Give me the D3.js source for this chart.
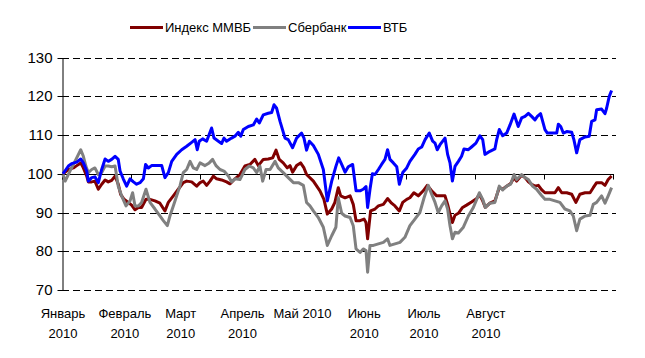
<!DOCTYPE html>
<html><head><meta charset="utf-8">
<script src="https://cdn.jsdelivr.net/npm/d3@7"></script>
<style>
html,body{margin:0;padding:0;background:#fff;}
svg{display:block;font-family:"Liberation Sans",Arial,sans-serif;}
</style></head>
<body><svg id="c" width="645" height="358"></svg>
<script>
// ---- data (day offset from 1 Jan 2010, index value) ----
const seriesNames = ["Индекс ММВБ", "Сбербанк", "ВТБ"];
const seriesColors = ["#800000", "#808080", "#0000ff"];
const micex = [[0,100],[2.7,101.1],[5.2,101.5],[6.9,102.1],[8.9,102.8],[10.2,101.5],[11.9,99.4],[12.7,97.9],[14.4,97.9],[16.0,98.1],[17.7,96.0],[19.4,97.3],[21.1,98.4],[22.7,97.9],[24.4,98.3],[26.1,99.4],[27.7,97.3],[28.9,94.7],[30.6,93.4],[32.7,92.6],[34.4,91.9],[36.1,90.7],[37.8,91.3],[39.4,91.3],[41.6,93.4],[43.6,93.4],[46.1,93.0],[48.6,92.4],[51.1,90.4],[52.8,92.6],[55.3,94.3],[57.8,96.0],[60.3,97.7],[62.0,98.1],[64.5,97.9],[67.0,96.8],[68.7,97.7],[70.3,98.1],[72.0,97.0],[73.7,98.1],[75.4,99.4],[77.0,98.7],[79.5,98.4],[82.0,97.9],[83.7,97.4],[86.2,98.7],[88.7,99.8],[91.2,102.0],[93.7,102.4],[96.2,103.7],[97.9,102.1],[100.4,103.7],[102.9,103.8],[105.1,104.1],[106.8,106.1],[108.4,103.7],[110.4,102.8],[112.4,101.5],[113.8,102.1],[115.1,100.4],[117.1,102.1],[119.1,102.8],[120.8,101.5],[122.1,99.8],[125.5,98.1],[128.8,95.6],[130.8,93.4],[132.5,89.6],[134.7,90.9],[136.3,92.6],[138.0,96.4],[139.2,94.3],[141.4,93.8],[143.9,94.3],[145.5,92.1],[146.9,87.9],[148.9,87.9],[150.9,88.3],[151.9,87.4],[152.7,83.2],[154.2,90.4],[156.4,90.9],[158.1,91.7],[160.6,92.1],[162.7,93.6],[164.7,92.4],[166.4,91.7],[168.6,90.4],[170.3,92.6],[172.3,93.4],[173.9,93.8],[175.9,95.1],[178.1,94.3],[180.6,95.6],[182.6,97.0],[184.8,95.6],[187.3,94.3],[189.0,94.3],[191.5,94.3],[192.8,92.1],[194.0,89.6],[195.2,87.4],[196.5,89.3],[198.2,89.8],[200.3,91.3],[202.3,91.9],[204.8,92.7],[207.4,93.6],[208.7,94.7],[210.4,93.0],[211.7,91.3],[214.0,92.4],[216.5,93.0],[218.7,96.4],[220.4,96.0],[222.4,96.8],[224.4,97.5],[226.1,99.0],[227.4,98.1],[229.9,99.6],[231.6,99.0],[233.3,97.9],[234.9,97.3],[236.6,96.8],[238.3,97.0],[239.9,95.9],[241.6,95.1],[244.1,95.1],[246.6,95.1],[248.3,96.4],[250.0,95.1],[252.5,95.1],[255.0,94.7],[257.1,92.6],[259.1,94.7],[261.7,95.1],[264.2,95.1],[265.8,96.4],[267.5,97.7],[270.0,97.7],[271.7,97.0],[273.3,98.5],[275.0,99.4]];
const sber = [[0,99.8],[1.1,98.1],[3.5,100.7],[6.0,103.2],[8.9,106.2],[10.2,104.5],[11.5,101.9],[12.7,100.3],[14.4,101.1],[16.0,101.5],[17.7,99.8],[19.4,100.3],[21.1,102.0],[22.7,102.0],[24.4,101.8],[26.1,102.0],[27.7,96.8],[29.4,94.3],[31.6,91.7],[33.6,93.0],[34.9,95.1],[36.1,91.7],[37.8,91.7],[39.4,92.6],[41.6,96.0],[43.6,92.6],[46.1,90.9],[48.6,89.1],[50.3,87.9],[52.3,86.6],[53.6,89.1],[55.3,91.7],[57.0,94.3],[58.6,96.8],[60.3,100.3],[62.0,101.1],[63.7,103.2],[65.3,101.5],[67.0,101.1],[68.7,102.8],[71.2,102.1],[73.3,102.8],[75.0,103.7],[76.7,102.1],[78.7,101.1],[80.7,100.7],[82.9,99.4],[84.5,97.9],[86.2,98.7],[88.7,98.5],[91.2,101.1],[93.4,102.0],[95.4,101.5],[97.1,100.3],[98.7,102.0],[100.1,98.1],[101.8,101.1],[103.8,101.1],[106.3,103.2],[107.9,101.5],[110.4,100.3],[112.9,99.0],[115.5,97.7],[118.0,97.7],[120.5,97.0],[122.1,92.6],[123.8,91.7],[125.5,90.4],[128.0,88.7],[130.5,86.2],[132.5,81.5],[134.7,84.0],[136.8,86.2],[138.0,93.8],[139.7,89.8],[141.4,89.1],[143.9,88.7],[145.5,86.6],[146.9,80.6],[148.9,79.7],[150.5,80.6],[151.9,80.2],[152.7,74.6],[153.9,81.5],[155.6,81.5],[158.1,81.9],[160.6,82.3],[162.7,83.2],[163.9,81.5],[166.4,81.9],[168.9,82.3],[171.4,83.6],[173.9,86.6],[176.4,88.3],[178.9,90.0],[181.0,93.8],[183.1,97.0],[184.8,94.7],[186.5,92.6],[188.1,90.0],[189.8,91.7],[191.5,93.0],[192.8,90.9],[194.0,86.6],[195.2,83.2],[196.5,84.9],[198.2,84.7],[200.7,86.2],[203.2,89.1],[205.7,91.3],[207.4,93.4],[208.7,95.1],[210.4,93.4],[211.7,91.3],[214.0,92.4],[216.5,92.6],[218.7,96.8],[220.4,95.8],[222.4,96.8],[224.4,97.3],[226.1,99.8],[227.4,98.5],[229.9,99.8],[231.6,99.0],[233.3,98.5],[235.4,96.8],[237.4,96.0],[239.9,94.4],[241.6,93.4],[244.1,93.4],[246.6,93.0],[249.1,92.6],[251.6,90.9],[254.1,90.4],[255.8,89.1],[257.5,85.3],[259.1,88.3],[261.7,89.1],[264.2,89.3],[265.8,92.1],[267.5,92.6],[270.0,94.3],[271.7,92.4],[273.3,94.3],[275.0,96.4]];
const vtb = [[0,100],[2.7,102.0],[4.3,102.6],[6.9,103.0],[8.9,103.8],[10.2,102.8],[11.9,100.7],[12.7,98.1],[14.4,99.0],[16.0,99.2],[17.7,97.7],[19.4,101.1],[21.1,103.8],[22.7,103.2],[24.4,103.7],[26.1,104.5],[27.7,103.7],[28.6,100.7],[30.2,98.7],[31.9,96.8],[33.6,98.7],[35.3,97.9],[36.9,97.3],[38.6,97.7],[40.3,98.7],[41.4,102.4],[42.8,101.5],[44.4,102.1],[47.0,102.1],[49.5,102.1],[51.1,99.0],[52.8,100.3],[54.5,103.2],[57.0,105.0],[59.5,106.2],[62.0,107.1],[64.5,108.1],[66.2,108.8],[67.3,106.2],[68.3,108.4],[70.0,109.0],[72.0,108.4],[74.5,111.8],[75.7,109.2],[77.9,108.4],[79.5,107.8],[80.7,109.2],[82.0,108.4],[84.5,109.2],[86.2,109.7],[87.9,110.7],[89.1,109.7],[90.4,111.4],[92.9,112.2],[95.4,112.6],[97.1,114.1],[98.4,113.1],[100.4,115.2],[102.9,115.6],[104.6,115.8],[105.8,117.8],[107.1,116.9],[108.8,113.5],[111.3,109.2],[112.9,108.8],[115.1,106.7],[117.1,109.2],[119.6,110.5],[120.8,109.2],[122.1,106.1],[123.5,108.4],[125.5,107.3],[128.0,105.0],[130.5,101.1],[132.5,93.0],[134.7,98.1],[136.8,101.9],[138.2,104.1],[139.7,102.4],[141.4,100.4],[143.0,101.8],[145.2,102.4],[146.9,95.6],[148.9,95.6],[150.5,96.0],[151.9,96.7],[152.7,91.3],[153.9,96.0],[155.1,100.0],[156.4,99.8],[158.1,101.1],[159.7,102.4],[161.4,103.7],[162.7,106.2],[163.9,103.7],[165.6,102.8],[167.3,101.8],[168.6,97.3],[170.3,100.3],[172.3,101.5],[173.9,103.2],[176.4,105.0],[178.1,106.4],[179.8,106.9],[181.5,108.8],[183.6,110.5],[185.3,108.4],[186.5,107.9],[187.6,106.2],[189.0,107.5],[191.5,109.2],[192.8,105.0],[194.0,102.8],[195.2,98.1],[196.5,101.9],[198.2,103.2],[199.8,104.5],[201.0,106.4],[203.2,106.2],[204.8,106.9],[207.0,107.9],[209.0,109.8],[210.4,108.8],[211.5,105.0],[214.0,105.8],[216.5,106.4],[217.4,108.8],[218.7,111.4],[220.4,109.8],[222.4,110.5],[224.1,112.6],[226.1,115.4],[228.2,112.2],[229.9,114.4],[231.6,114.8],[233.3,115.6],[234.9,114.8],[236.6,113.9],[237.8,114.8],[239.4,115.5],[241.6,111.4],[242.8,110.5],[245.8,110.5],[247.5,110.5],[248.3,112.8],[249.5,112.2],[250.8,110.5],[252.5,110.9],[255.0,110.7],[256.1,108.8],[257.5,105.4],[259.1,108.8],[261.7,109.5],[263.8,109.7],[265.0,113.5],[266.7,113.9],[267.5,116.5],[270.0,116.7],[271.7,115.5],[272.5,116.9],[273.8,119.9],[275.0,121.5]];
const yTicks = [70, 80, 90, 100, 110, 120, 130];
const monthLabels = [["Январь","2010"],["Февраль","2010"],["Март","2010"],["Апрель","2010"],["Май 2010"],["Июнь","2010"],["Июль","2010"],["Август","2010"]];
const domainStart = "2009-12-31T12:00:00Z";
const domainEnd = "2010-10-03T17:00:00Z";
const xTickCount = 8;

// ---- drawing ----
const svg = d3.select("#c");
const baseDate = Date.UTC(2010, 0, 1);
const toDate = d => new Date(baseDate + d * 864e5);
const x = d3.scaleUtc().domain([new Date(domainStart), new Date(domainEnd)]).range([62, 613]);
const y = d3.scaleLinear().domain([70, 130]).range([290, 57.5]);

// gridlines
svg.append("g").selectAll("line").data(yTicks.filter(v => v !== 100)).join("line")
  .attr("x1", 62).attr("x2", 616)
  .attr("y1", v => Math.round(y(v)) + 0.5).attr("y2", v => Math.round(y(v)) + 0.5)
  .attr("stroke", "#000").attr("stroke-width", 1).attr("stroke-dasharray", "7,4");

// y axis
const yAxis = d3.axisLeft(y).tickValues(yTicks).tickSize(5).tickPadding(5).tickSizeOuter(0);
const gy = svg.append("g").attr("transform", "translate(62.5,0)").call(yAxis);
gy.selectAll("text").attr("font-size", 15).attr("fill", "#000").attr("font-family", "Liberation Sans, Arial, sans-serif");
gy.selectAll("line,path").attr("stroke", "#000");
gy.selectAll(".tick").attr("transform", d => `translate(0,${Math.round(y(d)) + 0.5})`);

// x axis at 100
const xTickVals = d3.range(xTickCount + 1).map(i => d3.interpolateDate(x.domain()[0], x.domain()[1])(i / xTickCount));
const y100 = Math.round(y(100)) + 0.5;
const gx = svg.append("g").attr("transform", `translate(0,${y100})`);
gx.append("line").attr("x1", 62).attr("x2", 614).attr("stroke", "#000");
gx.selectAll(".tk").data(xTickVals).join("line").attr("class", "tk")
  .attr("x1", d => Math.round(x(d)) + 0.5).attr("x2", d => Math.round(x(d)) + 0.5)
  .attr("y1", 0).attr("y2", 5).attr("stroke", "#000");

// month labels
const lab = svg.append("g").attr("font-size", 13).attr("fill", "#000").attr("text-anchor", "middle");
monthLabels.forEach((lines, i) => {
  const t = lab.append("text").attr("x", x(new Date(Date.UTC(2010, i, 1)))).attr("y", 318);
  lines.forEach((s, j) => t.append("tspan").attr("x", x(new Date(Date.UTC(2010, i, 1)))).attr("dy", j === 0 ? 0 : 20).text(s));
});

// lines
const line = d3.line().x(d => x(toDate(d[0]))).y(d => y(d[1])).curve(d3.curveLinear);
[micex, sber, vtb].forEach((s, i) => {
  svg.append("path").datum(s).attr("d", line).attr("fill", "none")
    .attr("stroke", seriesColors[i]).attr("stroke-width", 3).attr("stroke-linejoin", "round");
});

// legend
const legendX = [130, 253, 348];
const lg = svg.append("g").attr("font-size", 13);
seriesNames.forEach((n, i) => {
  lg.append("line").attr("x1", legendX[i]).attr("x2", legendX[i] + 33).attr("y1", 27.5).attr("y2", 27.5)
    .attr("stroke", seriesColors[i]).attr("stroke-width", 3);
  lg.append("text").attr("x", legendX[i] + 35).attr("y", 32).text(n).attr("fill", "#000");
});
</script></body></html>
